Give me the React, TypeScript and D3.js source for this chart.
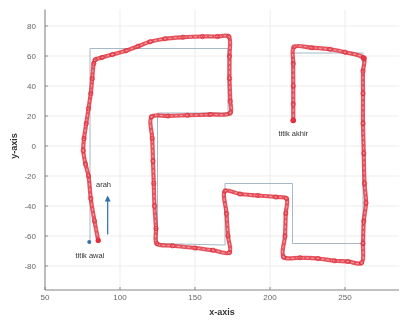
import React from "react";
import * as d3 from "d3";

// Reference (planned) route
const truthX = [80, 80, 172, 172, 125, 125, 170, 170, 215, 215, 262, 262, 215, 215];
const truthY = [-65, 65, 65, 22, 22, -65, -66, -25, -25, -65, -65, 62, 62, 18];

// Estimated trajectory
const estX = [
  85.5, 83, 80.5, 79, 77, 75.5, 76, 77.5, 79, 80.5, 81.5, 82.5, 83.5,
  88, 95, 104, 112, 120, 130, 142, 155, 165, 172.5,
  173, 173, 173.5, 173.5,
  160, 145, 132, 121,
  121.5, 122, 122.5, 123, 124, 124.5,
  135, 150, 162, 173,
  172, 171, 170,
  180, 192, 204, 211,
  210.5, 210, 209,
  220, 232, 243, 252, 261,
  262, 262.5, 264, 263, 262.5, 262, 262, 262, 262.5,
  250, 240, 228, 216,
  215.5, 215.5, 215.5, 215.5,
];
const estY = [
  -63, -50, -35, -20, -12, -3, 5, 15, 25, 35, 45, 55, 57.5,
  59, 61, 63.5, 66.5, 69.5, 71.5, 72.5, 73, 73, 73,
  60, 45, 30, 22,
  21, 20.5, 20, 19.5,
  5, -10, -25, -40, -55, -65,
  -66.5, -68, -69.5, -71,
  -60, -45, -30,
  -32, -33, -34, -35,
  -45, -60, -74,
  -74.5, -75, -76.5, -77, -78,
  -65, -50, -38, -25, -5, 15, 35, 50, 58.5,
  62.5, 64.5, 65.5, 66,
  55, 40, 28, 17,
];

const xTicks = [50, 100, 150, 200, 250];
const yTicks = [-80, -60, -40, -20, 0, 20, 40, 60, 80];

const startPoint = [79.5, -64];
const arrowFrom = [91.8, -59];
const arrowTo = [91.8, -35];

const W = 404;
const H = 325;

export default function App() {
  const x = d3.scaleLinear().domain([50, 286]).range([45, 399]);
  const y = d3.scaleLinear().domain([-96, 91]).range([290, 9.5]);

  const line = d3
    .line<number>()
    .x((i) => x(estX[i]))
    .y((i) => y(estY[i]))
    .curve(d3.curveCatmullRom.alpha(0.5));
  const idx = estX.map((_, i) => i);

  const truthLine = d3
    .line<number>()
    .x((i) => x(truthX[i]))
    .y((i) => y(truthY[i]));
  const tIdx = truthX.map((_, i) => i);

  const font = "Liberation Sans, Arial, sans-serif";

  return (
    <svg
      width={W}
      height={H}
      style={{ position: "absolute", left: 0, top: 0, background: "#fff" }}
      fontFamily={font}
    >
      <defs>
        <marker
          id="arrowHead"
          viewBox="0 0 10 10"
          refX="5"
          refY="5"
          markerWidth="5"
          markerHeight="5"
          orient="auto"
        >
          <path d="M0,0 L10,5 L0,10 z" fill="#2f6fb0" />
        </marker>
        <filter id="soft" x="-5%" y="-5%" width="110%" height="110%">
          <feGaussianBlur stdDeviation="0.45" />
        </filter>
      </defs>

      <g filter="url(#soft)">
        {/* grid */}
        {xTicks.map((t) => (
          <line
            key={"gx" + t}
            x1={x(t)}
            x2={x(t)}
            y1={y(-96)}
            y2={y(91)}
            stroke="#e8e8e8"
            strokeWidth={0.8}
          />
        ))}
        {yTicks.map((t) => (
          <line
            key={"gy" + t}
            x1={x(50)}
            x2={x(286)}
            y1={y(t)}
            y2={y(t)}
            stroke="#e8e8e8"
            strokeWidth={0.8}
          />
        ))}

        {/* axes */}
        <line x1={x(50)} x2={x(50)} y1={y(-96)} y2={y(91)} stroke="#777" strokeWidth={0.9} />
        <line x1={x(50)} x2={x(286)} y1={y(-96)} y2={y(-96)} stroke="#777" strokeWidth={0.9} />
        {xTicks.map((t) => (
          <g key={"tx" + t}>
            <line x1={x(t)} x2={x(t)} y1={y(-96)} y2={y(-96) - 3} stroke="#777" strokeWidth={0.8} />
            <text
              x={x(t)}
              y={y(-96) + 10}
              fontSize={8}
              fill="#666"
              textAnchor="middle"
            >
              {t}
            </text>
          </g>
        ))}
        {yTicks.map((t) => (
          <g key={"ty" + t}>
            <line x1={x(50)} x2={x(50) + 3} y1={y(t)} y2={y(t)} stroke="#777" strokeWidth={0.8} />
            <text
              x={x(50) - 9}
              y={y(t) + 3}
              fontSize={8}
              fill="#666"
              textAnchor="end"
            >
              {t}
            </text>
          </g>
        ))}
        <text
          x={(x(50) + x(286)) / 2}
          y={315}
          fontSize={9}
          fontWeight="bold"
          fill="#333"
          textAnchor="middle"
        >
          x-axis
        </text>
        <text
          transform={`translate(17,${y(0)}) rotate(-90)`}
          fontSize={9}
          fontWeight="bold"
          fill="#333"
          textAnchor="middle"
        >
          y-axis
        </text>

        {/* planned route */}
        <path d={truthLine(tIdx) || ""} fill="none" stroke="#9db0bf" strokeWidth={0.9} />

        {/* estimated trajectory */}
        <path
          d={line(idx) || ""}
          fill="none"
          stroke="#e0323e"
          strokeWidth={4.2}
          strokeOpacity={0.85}
          strokeLinejoin="round"
          strokeLinecap="round"
        />
        <path
          d={line(idx) || ""}
          fill="none"
          stroke="#f7aab2"
          strokeWidth={1.2}
          strokeOpacity={0.8}
          strokeDasharray="3 2"
        />
        {idx.map((i) => (
          <circle
            key={"c" + i}
            cx={x(estX[i])}
            cy={y(estY[i])}
            r={2.2}
            fill="none"
            stroke="#d9202e"
            strokeWidth={0.8}
            strokeOpacity={0.8}
          />
        ))}
        <circle cx={x(estX[0])} cy={y(estY[0])} r={2.5} fill="#e2303c" />
        <circle
          cx={x(estX[estX.length - 1])}
          cy={y(estY[estY.length - 1])}
          r={2.8}
          fill="#e2303c"
        />
        <circle cx={x(262.5)} cy={y(58.5)} r={3} fill="#e2303c" opacity={0.8} />

        {/* start point */}
        <circle cx={x(startPoint[0])} cy={y(startPoint[1])} r={2} fill="#3b6fb0" />

        {/* direction arrow */}
        <line
          x1={x(arrowFrom[0])}
          y1={y(arrowFrom[1])}
          x2={x(arrowTo[0])}
          y2={y(arrowTo[1])}
          stroke="#2f6fb0"
          strokeWidth={1.2}
          markerEnd="url(#arrowHead)"
        />
        <text x={x(89)} y={y(-27)} fontSize={7.5} fill="#333" textAnchor="middle">
          arah
        </text>
        <text x={x(80)} y={y(-74.5)} fontSize={7.5} fill="#333" textAnchor="middle">
          titik awal
        </text>
        <text x={x(215.5)} y={y(6.5)} fontSize={7.5} fill="#333" textAnchor="middle">
          titik akhir
        </text>
      </g>
    </svg>
  );
}
